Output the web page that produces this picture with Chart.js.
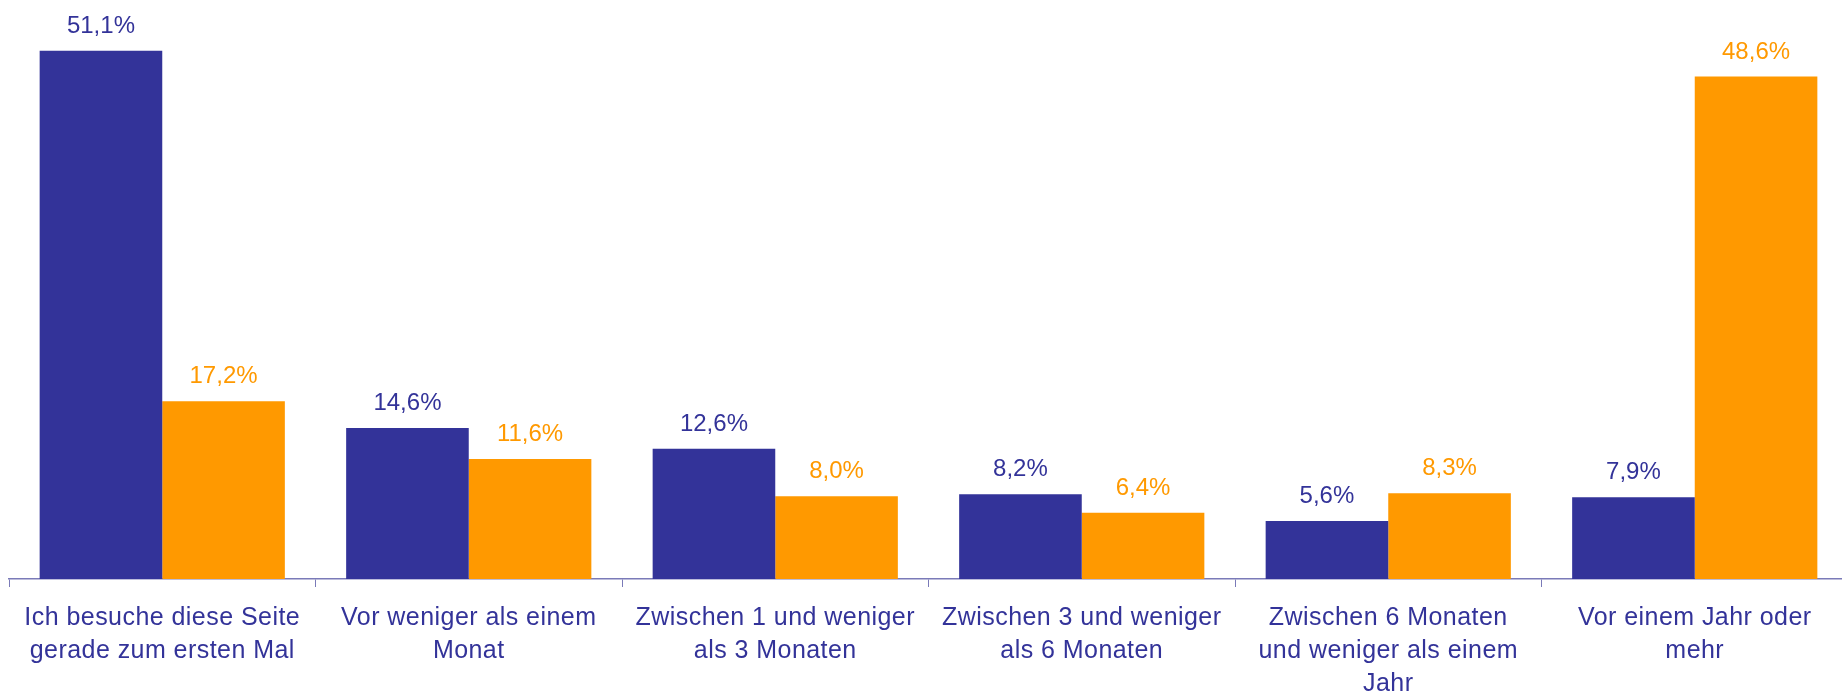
<!DOCTYPE html>
<html>
<head>
<meta charset="utf-8">
<script src="https://cdn.jsdelivr.net/npm/chart.js@4/dist/chart.umd.min.js"></script>
<style>
  html, body { margin: 0; padding: 0; background: #ffffff; overflow: hidden; }
  #wrap { position: absolute; left: 0; top: 0; width: 1848px; height: 699px; }
</style>
</head>
<body>
<div id="wrap"><canvas id="visitChart"></canvas></div>
<script>
// categories (multi-line labels)
const categories = [
    ["Ich besuche diese Seite", "gerade zum ersten Mal"],
    ["Vor weniger als einem", "Monat"],
    ["Zwischen 1 und weniger", "als 3 Monaten"],
    ["Zwischen 3 und weniger", "als 6 Monaten"],
    ["Zwischen 6 Monaten", "und weniger als einem", "Jahr"],
    ["Vor einem Jahr oder", "mehr"]
];

// series values in percent
const blueValues = [51.1, 14.6, 12.6, 8.2, 5.6, 7.9];
const orangeValues = [17.2, 11.6, 8.0, 6.4, 8.3, 48.6];

const BLUE = '#333399';
const ORANGE = '#FF9900';

// Slightly wider letter spacing for the category labels
const spacing = {
    id: 'spacing',
    beforeDraw(chart) {
        chart.ctx.letterSpacing = '0.45px';
    }
};

// Draw the value labels above each bar
const valueLabels = {
    id: 'valueLabels',
    afterDatasetsDraw(chart) {
        const ctx = chart.ctx;
        ctx.save();
        ctx.letterSpacing = '0px';
        ctx.font = '24px "Liberation Sans", Arial, sans-serif';
        ctx.textAlign = 'center';
        ctx.textBaseline = 'alphabetic';
        chart.data.datasets.forEach(function (ds, i) {
            const meta = chart.getDatasetMeta(i);
            ctx.fillStyle = ds.backgroundColor;
            meta.data.forEach(function (bar, j) {
                const txt = ds.data[j].toFixed(1).replace('.', ',') + '%';
                ctx.fillText(txt, bar.x, bar.y - 18);
            });
        });
        ctx.restore();
    }
};

const ctx = document.getElementById('visitChart').getContext('2d');
new Chart(ctx, {
    type: 'bar',
    data: {
        labels: categories,
        datasets: [{
            label: 'A',
            data: blueValues,
            backgroundColor: BLUE,
            categoryPercentage: 0.8,
            barPercentage: 1.0
        }, {
            label: 'B',
            data: orangeValues,
            backgroundColor: ORANGE,
            categoryPercentage: 0.8,
            barPercentage: 1.0
        }]
    },
    options: {
        responsive: true,
        maintainAspectRatio: false,
        animation: false,
        layout: { padding: { left: 9, right: 0, top: 0, bottom: 0 } },
        plugins: {
            legend: { display: false },
            tooltip: { enabled: false }
        },
        scales: {
            x: {
                afterFit: function (scale) { scale.height = 120; },
                grid: {
                    offset: true,
                    drawOnChartArea: false,
                    drawTicks: true,
                    tickLength: 8,
                    color: '#7a7ab8'
                },
                border: { display: true, color: '#7a7ab8', width: 1.5 },
                ticks: {
                    color: BLUE,
                    padding: 14,
                    maxRotation: 0,
                    autoSkip: false,
                    font: { family: '"Liberation Sans", Arial, sans-serif', size: 25, lineHeight: 1.33 }
                }
            },
            y: {
                display: false,
                min: 0,
                max: 56
            }
        }
    },
    plugins: [spacing, valueLabels]
});
</script>
</body>
</html>
